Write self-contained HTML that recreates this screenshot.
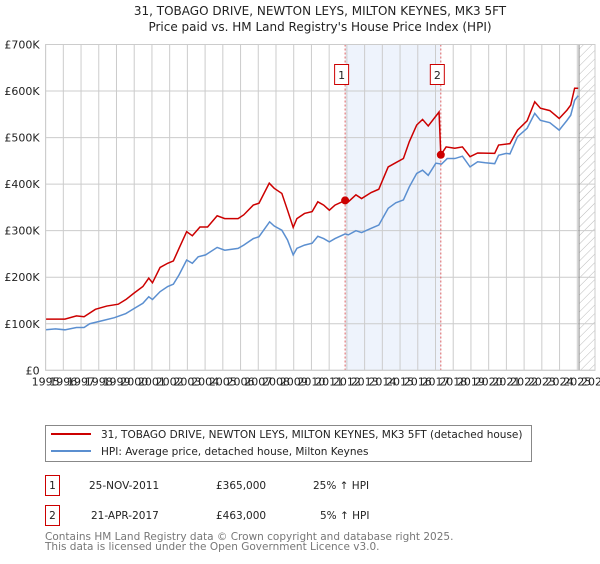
<!DOCTYPE html>
<html><head><meta charset="utf-8"><style>
body{margin:0;background:#fff;width:600px;height:560px;overflow:hidden;font-family:"DejaVu Sans","Liberation Sans",sans-serif;}
svg text{font-family:"DejaVu Sans","Liberation Sans",sans-serif;}
</style></head><body>
<svg id="chart" width="600" height="560" xmlns="http://www.w3.org/2000/svg">
<defs><pattern id="hatch" width="6" height="6" patternUnits="userSpaceOnUse" patternTransform="rotate(45)"><line x1="0" y1="0" x2="0" y2="6" stroke="#bbb" stroke-width="1"/></pattern></defs>
<text x="320" y="15" text-anchor="middle" font-size="12" fill="#222">31, TOBAGO DRIVE, NEWTON LEYS, MILTON KEYNES, MK3 5FT</text>
<text x="320" y="31" text-anchor="middle" font-size="12" fill="#222">Price paid vs. HM Land Registry's House Price Index (HPI)</text>
<g id="grid"></g><g id="series"></g><g id="axes"></g>
<rect x="45.5" y="425.5" width="486" height="36" fill="#fff" stroke="#888"/>
<line x1="51" y1="434" x2="91" y2="434" stroke="#cc0000" stroke-width="2"/>
<text x="101" y="438" font-size="10.5" fill="#222">31, TOBAGO DRIVE, NEWTON LEYS, MILTON KEYNES, MK3 5FT (detached house)</text>
<line x1="51" y1="451" x2="91" y2="451" stroke="#5b8fd0" stroke-width="2"/>
<text x="101" y="455" font-size="10.5" fill="#222">HPI: Average price, detached house, Milton Keynes</text>
<rect x="45.5" y="475.5" width="14" height="20" fill="#fff" stroke="#cc0000"/>
<text x="52.5" y="489" text-anchor="middle" font-size="10.5" fill="#222">1</text>
<text x="89" y="489" font-size="10.5" fill="#222">25-NOV-2011</text>
<text x="216" y="489" font-size="10.5" fill="#222">£365,000</text>
<text x="313" y="489" font-size="10.5" fill="#222">25% ↑ HPI</text>
<rect x="45.5" y="505.5" width="14" height="20" fill="#fff" stroke="#cc0000"/>
<text x="52.5" y="519" text-anchor="middle" font-size="10.5" fill="#222">2</text>
<text x="91" y="519" font-size="10.5" fill="#222">21-APR-2017</text>
<text x="216" y="519" font-size="10.5" fill="#222">£463,000</text>
<text x="320" y="519" font-size="10.5" fill="#222">5% ↑ HPI</text>
<text x="45" y="540" font-size="10.5" fill="#777">Contains HM Land Registry data © Crown copyright and database right 2025.</text>
<text x="45" y="550" font-size="10.5" fill="#777">This data is licensed under the Open Government Licence v3.0.</text>
</svg>
<script>
const yearTicks=[1995,1996,1997,1998,1999,2000,2001,2002,2003,2004,2005,2006,2007,2008,2009,2010,2011,2012,2013,2014,2015,2016,2017,2018,2019,2020,2021,2022,2023,2024,2025,2026];
const valueTicks=[0,100,200,300,400,500,600,700];
const valueLabels=["£0","£100K","£200K","£300K","£400K","£500K","£600K","£700K"];
const hpiYears=[1995,1995.56,1996.09,1996.74,1997.17,1997.49,1998.24,1998.88,1999.53,1999.96,2000.49,2000.82,2001.03,2001.46,2001.89,2002.21,2002.53,2002.96,2003.28,2003.61,2004.03,2004.68,2005.11,2005.86,2006.18,2006.72,2007.04,2007.64,2007.9,2008.33,2008.65,2008.97,2009.18,2009.61,2010.04,2010.36,2010.69,2011.01,2011.33,2011.9,2012.08,2012.51,2012.83,2013.37,2013.8,2014.33,2014.76,2015.19,2015.52,2015.94,2016.27,2016.59,2017.02,2017.34,2017.66,2018.09,2018.52,2018.95,2019.38,2019.81,2020.34,2020.56,2020.99,2021.2,2021.63,2022.17,2022.6,2022.92,2023.45,2023.98,2024.42,2024.63,2024.85,2025.05];
const hpiValues=[87,89,87,92,92,100,107,113,122,132,144,158,152,169,180,185,205,237,230,244,248,264,258,262,269,283,287,319,310,301,280,248,262,269,273,288,283,276,283,293,291,300,296,305,312,348,360,366,394,423,430,419,445,443,455,455,460,437,448,446,444,462,466,465,502,520,552,537,532,516,537,548,580,590];
const saleYears=[1995,1996.09,1996.74,1997.17,1997.81,1998.45,1999.1,1999.53,1999.96,2000.49,2000.82,2001.03,2001.46,2001.89,2002.21,2002.53,2002.96,2003.28,2003.71,2004.14,2004.68,2005.11,2005.86,2006.18,2006.72,2007.04,2007.62,2007.9,2008.33,2008.65,2008.97,2009.18,2009.61,2010.04,2010.36,2010.69,2011.01,2011.33,2011.9,2012.08,2012.51,2012.83,2013.37,2013.8,2014.33,2014.76,2015.19,2015.52,2015.94,2016.27,2016.59,2017.2,2017.3,2017.6,2018.09,2018.52,2018.95,2019.38,2020.34,2020.56,2021.2,2021.63,2022.17,2022.6,2022.92,2023.45,2023.98,2024.42,2024.63,2024.85,2025.05];
const saleValues=[110,110,117,115,131,138,142,152,165,180,198,188,221,230,235,262,298,289,308,308,332,326,326,334,355,359,402,391,380,344,307,326,337,341,362,355,344,355,365,362,377,369,382,389,437,446,455,491,527,539,525,555,463,480,477,480,459,467,466,484,487,516,536,577,563,558,541,559,570,606,606];
const sales=[{n:"1",y:2011.9,v:365},{n:"2",y:2017.3,v:463}];
const X0=45.6,X1=595,Y0=370.3,Y1=44.5;
const xs=y=>X0+(y-1995)*(X1-X0)/31;
const ys=v=>Y0-v*(Y0-Y1)/700;
const NS="http://www.w3.org/2000/svg";
function mk(tag,attrs,parent){const e=document.createElementNS(NS,tag);for(const k in attrs)e.setAttribute(k,attrs[k]);parent.appendChild(e);return e;}
const grid=document.getElementById('grid'),ser=document.getElementById('series'),ax=document.getElementById('axes');
const shade=mk('rect',{x:xs(2011.9),y:Y1,width:xs(2017.3)-xs(2011.9),height:Y0-Y1,fill:'#eef3fc'},grid);


const hatch=mk('rect',{x:xs(2025.1),y:Y1,width:X1-xs(2025.1),height:Y0-Y1,fill:'url(#hatch)'},grid);


yearTicks.forEach(y=>{
 const l=mk('line',{x1:xs(y),x2:xs(y),y1:Y1,y2:Y0,stroke:'#ccc','stroke-width':1},grid);
 
 
 const t=mk('text',{x:xs(y),y:Y0+15,'text-anchor':'middle','font-size':11,fill:'#222'},ax);
 t.textContent=y;
 
 
});
valueTicks.forEach((v,i)=>{
 const l=mk('line',{x1:X0,x2:X1,y1:ys(v),y2:ys(v),stroke:'#ccc','stroke-width':1},grid);
 
 
 const t=mk('text',{x:X0-6,y:ys(v)+4,'text-anchor':'end','font-size':11,fill:'#222'},ax);
 t.textContent=valueLabels[i];
 
 
});
const nowLine=mk('line',{x1:xs(2025.1),x2:xs(2025.1),y1:Y1,y2:Y0,stroke:'#888','stroke-width':1},grid);


sales.forEach(s=>{
 const l=mk('line',{x1:xs(s.y),x2:xs(s.y),y1:Y1,y2:Y0,stroke:'#e06060','stroke-dasharray':'2,2','stroke-width':1},grid);
 
 
});
const hp=mk('polyline',{points:hpiYears.map((y,i)=>xs(y)+','+ys(hpiValues[i])).join(' '),fill:'none',stroke:'#5b8fd0','stroke-width':1.5},ser);


const sp=mk('polyline',{points:saleYears.map((y,i)=>xs(y)+','+ys(saleValues[i])).join(' '),fill:'none',stroke:'#cc0000','stroke-width':1.5},ser);


sales.forEach(s=>{
 const c=mk('circle',{cx:xs(s.y),cy:ys(s.v),r:4,fill:'#cc0000'},ser);
 
 
 const b=mk('rect',{x:xs(s.y)-10.5,y:64.5,width:14,height:20,fill:'#fff',stroke:'#cc0000'},ser);
 
 
 const t=mk('text',{x:xs(s.y)-3.5,y:79,'text-anchor':'middle','font-size':11,fill:'#222'},ser);
 t.textContent=s.n;
 
 
});
const frame=mk('rect',{x:X0,y:Y1,width:X1-X0,height:Y0-Y1,fill:'none',stroke:'#ccc'},ax);


</script>
</body></html>
